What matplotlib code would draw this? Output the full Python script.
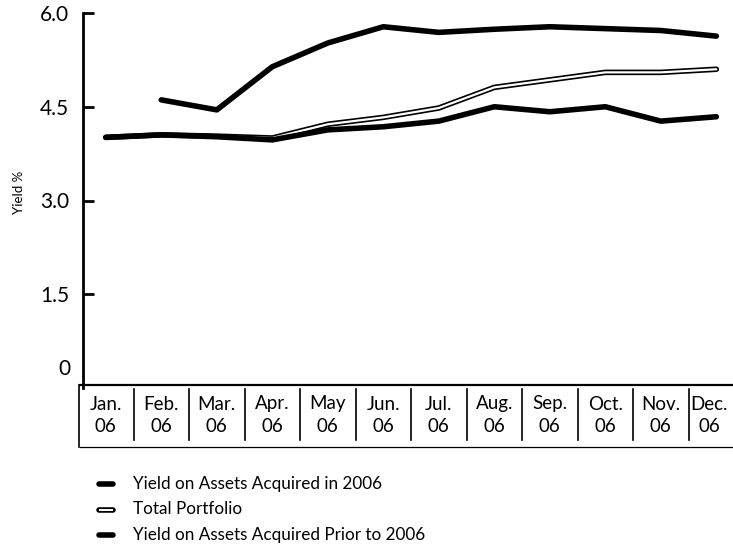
import numpy as np
import matplotlib
matplotlib.use("Agg")
from matplotlib import pyplot as plt

months = ["Jan.", "Feb.", "Mar.", "Apr.", "May", "Jun.", "Jul.", "Aug.", "Sep.", "Oct.", "Nov.", "Dec."]
year = "06"
acq_2006 = [np.nan, 4.61, 4.45, 5.14, 5.52, 5.78, 5.69, 5.74, 5.78, 5.75, 5.72, 5.63]
total = [4.01, 4.05, 4.03, 4.0, 4.22, 4.33, 4.48, 4.81, 4.93, 5.05, 5.05, 5.1]
prior_2006 = [4.01, 4.05, 4.02, 3.97, 4.13, 4.18, 4.27, 4.5, 4.42, 4.5, 4.27, 4.34]
yticks = [1.5, 3.0, 4.5, 6.0]
legend_labels = ["Yield on Assets Acquired in 2006", "Total Portfolio",
                 "Yield on Assets Acquired Prior to 2006"]

plt.rcParams['font.family'] = ['Lato', 'DejaVu Sans']

W, H = 733, 558
fig = plt.figure(figsize=(W / 100, H / 100), dpi=100)

# axes: pixel 78..733 horizontally, 13..388 vertically
ax = fig.add_axes([78 / W, (H - 388) / H, (733 - 78) / W, (388 - 13) / H])
x = np.arange(len(months))
ax.set_xlim(-0.5, 11.3)
ax.set_ylim(0, 6)

ax.plot(x, acq_2006, color='black', lw=4, solid_capstyle='round', solid_joinstyle='round')
ax.plot(x, total, color='black', lw=4, solid_capstyle='round', solid_joinstyle='round')
ax.plot(x, total, color='white', lw=1.6, solid_capstyle='round', solid_joinstyle='round')
ax.plot(x, prior_2006, color='black', lw=4, solid_capstyle='round', solid_joinstyle='round')

for s in ['top', 'right', 'bottom']:
    ax.spines[s].set_visible(False)
ax.spines['left'].set_position(('data', -0.41))
ax.spines['left'].set_linewidth(2)
ax.set_xticks([])
ax.set_yticks(yticks)
ax.set_yticklabels([f"{v:.1f}" for v in yticks], fontsize=15)
ax.tick_params(axis='y', direction='in', length=8, width=2, pad=10)
ax.text(-0.64, 0.3, "0", ha='right', va='center', fontsize=15)
fig.text(19 / W, 1 - 192 / H, "Yield %", rotation=90, fontsize=9.5, ha='center', va='center')

# month boxes under the plot
top_y, bot_y = 1 - 385 / H, 1 - 447 / H
fig.add_artist(plt.Line2D([80 / W, 1], [top_y, top_y], color='black', lw=1.6))
fig.add_artist(plt.Line2D([80 / W, 1], [bot_y, bot_y], color='black', lw=0.9))
fig.add_artist(plt.Line2D([79 / W, 79 / W], [top_y, bot_y], color='black', lw=1.2))
for i, m in enumerate(months):
    xf = ax.transData.transform((i, 0))[0] / W
    if i == len(months) - 1:
        xf = 709 / W
    if i > 0:
        xd = ax.transData.transform((i - 0.5, 0))[0] / W
        fig.add_artist(plt.Line2D([xd, xd], [1 - 389 / H, 1 - 440 / H], color='black', lw=1.2))
    fig.text(xf, 1 - 404 / H, m, ha='center', va='center', fontsize=13.5)
    fig.text(xf, 1 - 427 / H, year, ha='center', va='center', fontsize=13.5)

# legend
for j, lab in enumerate(legend_labels):
    yf = 1 - (484 + j * 25.5) / H
    fig.add_artist(plt.Line2D([99 / W, 113 / W], [yf, yf], color='black', lw=4, solid_capstyle='round'))
    if j == 1:
        fig.add_artist(plt.Line2D([100 / W, 112 / W], [yf, yf], color='white', lw=1.4))
    fig.text(133 / W, yf, lab, ha='left', va='center', fontsize=12.3)

fig.savefig("out.png", dpi=100)
